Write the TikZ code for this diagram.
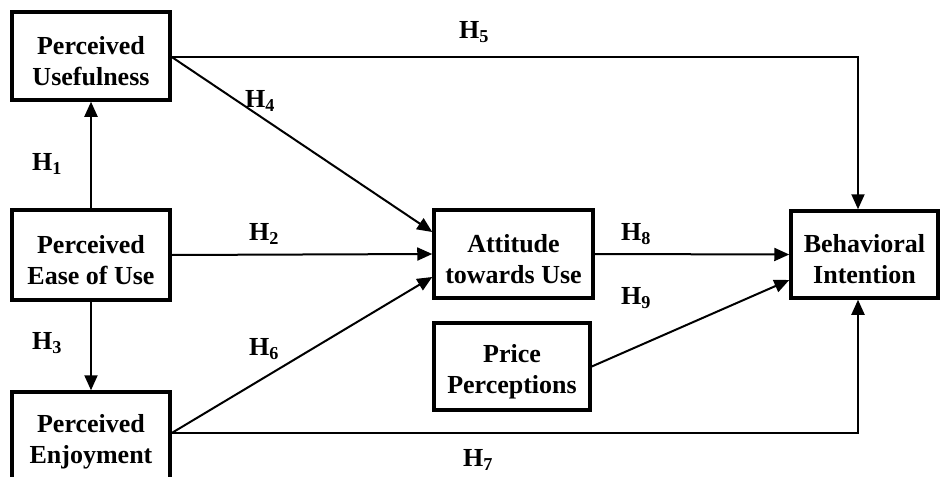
\documentclass[tikz,border=0pt]{standalone}
\usepackage{fontspec}
\setmainfont{Liberation Serif}
\usetikzlibrary{arrows.meta,calc}
\begin{document}
\begin{tikzpicture}[x=1pt,y=-1pt,
  box/.style={draw,line width=3.5pt,inner sep=0pt},
  boxtxt/.style={align=center,inner sep=0pt,yshift=-5pt,
    font=\bfseries\fontsize{26}{31}\selectfont},
  conn/.style={line width=2pt,-{Triangle[length=15pt,width=13pt]}},
  lbl/.style={font=\bfseries\fontsize{26}{31}\selectfont,inner sep=0pt}]
\useasboundingbox (0,0) rectangle (941,476);
\node[box,minimum width=158pt,minimum height=88pt,label={[boxtxt]center:{Perceived\\Usefulness}}] (pu) at (91,56) {};
\node[box,minimum width=158pt,minimum height=90pt,label={[boxtxt]center:{Perceived\\Ease of Use}}] (peou) at (91,255) {};
\node[box,minimum width=158pt,minimum height=98pt,label={[boxtxt,yshift=4pt]center:{Perceived\\Enjoyment}}] (pe) at (91,441) {};
\node[box,minimum width=159pt,minimum height=88pt,label={[boxtxt]center:{Attitude\\towards Use}}] (att) at (513.5,254) {};
\node[box,minimum width=147pt,minimum height=87pt,label={[boxtxt]center:{Behavioral\\Intention}}] (bi) at (864.5,254.5) {};
\node[box,minimum width=156pt,minimum height=87pt,label={[boxtxt]center:{Price\\Perceptions}}] (pp) at (512,366.5) {};

\coordinate (pur) at ($(pu.east)+(0,1)$);
\coordinate (per) at ($(pe.east)+(0,-8)$);
\coordinate (attu) at ($(att.west)+(0,-22)$);
\coordinate (attd) at ($(att.west)+(0,23)$);
\coordinate (bid) at ($(bi.west)+(0,25.5)$);
\coordinate (bit) at (858,0);

\draw[conn] (peou.north) -- (pu.south);
\draw[conn] (peou.south) -- (pe.north);
\draw[conn] (peou.east) -- (att.west);
\draw[conn] (pur) -- (attu);
\draw[conn] (per) -- (attd);
\draw[conn] (pur) -| (bi.north -| bit);
\draw[conn] (per) -| (bi.south -| bit);
\draw[conn] (att.east) -- (bi.west);
\draw[conn] (pp.east) -- (bid);

\node[lbl] (h5) at (474,32) {H\textsubscript{5}};
\node[lbl] (h4) at (260,101) {H\textsubscript{4}};
\node[lbl] (h1) at (47,164) {H\textsubscript{1}};
\node[lbl] (h2) at (264,234) {H\textsubscript{2}};
\node[lbl] (h8) at (636,234) {H\textsubscript{8}};
\node[lbl] (h9) at (636,298) {H\textsubscript{9}};
\node[lbl] (h6) at (264,349) {H\textsubscript{6}};
\node[lbl] (h3) at (47,343) {H\textsubscript{3}};
\node[lbl] (h7) at (478,460) {H\textsubscript{7}};
\end{tikzpicture}
\end{document}
